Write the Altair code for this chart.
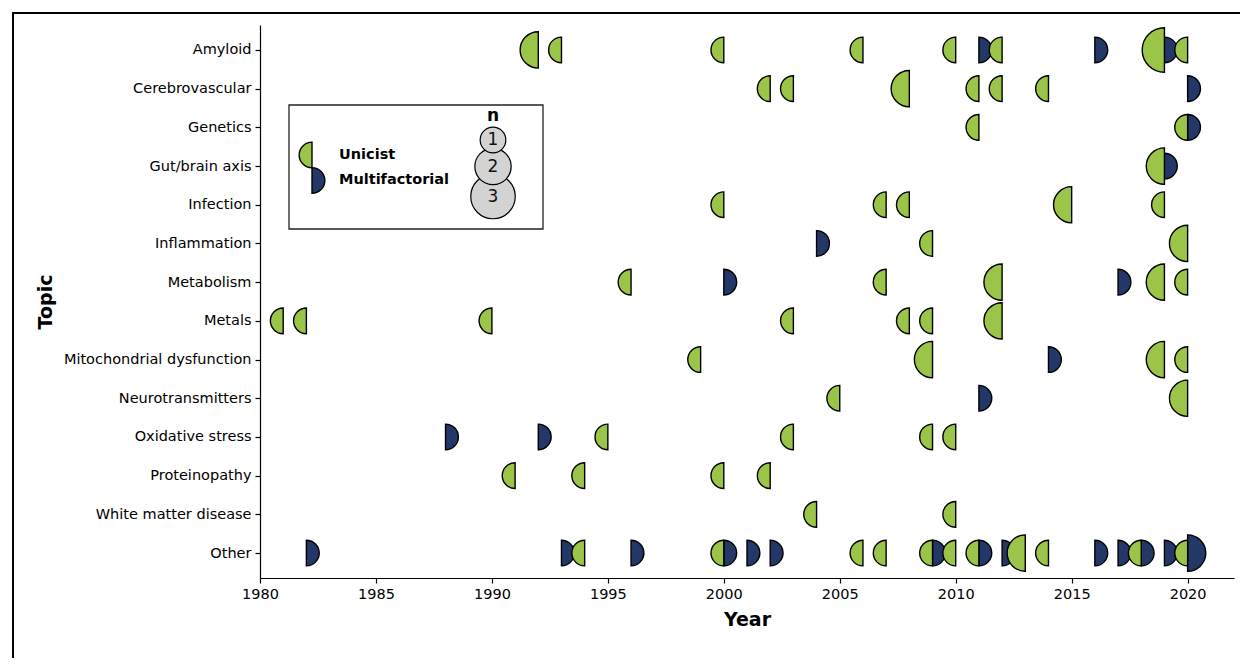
import altair as alt
import pandas as pd

topics = ["Amyloid", "Cerebrovascular", "Genetics", "Gut/brain axis", "Infection",
          "Inflammation", "Metabolism", "Metals", "Mitochondrial dysfunction",
          "Neurotransmitters", "Oxidative stress", "Proteinopathy",
          "White matter disease", "Other"]

# (year, n) per topic
unicist = {
    "Amyloid": [(1992, 2), (1993, 1), (2000, 1), (2006, 1), (2010, 1), (2012, 1), (2019, 3), (2020, 1)],
    "Cerebrovascular": [(2002, 1), (2003, 1), (2008, 2), (2011, 1), (2012, 1), (2014, 1)],
    "Genetics": [(2011, 1), (2020, 1)],
    "Gut/brain axis": [(2019, 2)],
    "Infection": [(2000, 1), (2007, 1), (2008, 1), (2015, 2), (2019, 1)],
    "Inflammation": [(2009, 1), (2020, 2)],
    "Metabolism": [(1996, 1), (2007, 1), (2012, 2), (2019, 2), (2020, 1)],
    "Metals": [(1981, 1), (1982, 1), (1990, 1), (2003, 1), (2008, 1), (2009, 1), (2012, 2)],
    "Mitochondrial dysfunction": [(1999, 1), (2009, 2), (2019, 2), (2020, 1)],
    "Neurotransmitters": [(2005, 1), (2020, 2)],
    "Oxidative stress": [(1995, 1), (2003, 1), (2009, 1), (2010, 1)],
    "Proteinopathy": [(1991, 1), (1994, 1), (2000, 1), (2002, 1)],
    "White matter disease": [(2004, 1), (2010, 1)],
    "Other": [(1994, 1), (2000, 1), (2006, 1), (2007, 1), (2009, 1), (2010, 1), (2011, 1),
              (2013, 2), (2014, 1), (2018, 1), (2020, 1)],
}
multifactorial = {
    "Amyloid": [(2011, 1), (2016, 1), (2019, 1)],
    "Cerebrovascular": [(2020, 1)],
    "Genetics": [(2020, 1)],
    "Gut/brain axis": [(2019, 1)],
    "Inflammation": [(2004, 1)],
    "Metabolism": [(2000, 1), (2017, 1)],
    "Mitochondrial dysfunction": [(2014, 1)],
    "Neurotransmitters": [(2011, 1)],
    "Oxidative stress": [(1988, 1), (1992, 1)],
    "Other": [(1982, 1), (1993, 1), (1996, 1), (2000, 1), (2001, 1), (2002, 1), (2009, 1),
              (2011, 1), (2012, 1), (2016, 1), (2017, 1), (2018, 1), (2019, 1), (2020, 2)],
}
x_ticks = [1980, 1985, 1990, 1995, 2000, 2005, 2010, 2015, 2020]
legend_n = [1, 2, 3]

GREEN = "#9bc548"
NAVY = "#243867"
FONT = "DejaVu Sans"
LEFT = "M 0 -1 A 1 1 0 0 0 0 1 Z"
RIGHT = "M 0 -1 A 1 1 0 0 1 0 1 Z"
CIRCLE = "M -1 0 A 1 1 0 1 0 1 0 A 1 1 0 1 0 -1 0 Z"


def rows(d, kind):
    out = []
    for t, items in d.items():
        for y, n in items:
            out.append({"topic": t, "year": y, "n": n, "type": kind})
    return out


df_u = pd.DataFrame(rows(unicist, "Unicist"))
df_m = pd.DataFrame(rows(multifactorial, "Multifactorial"))

W, H = 974, 553
xs = alt.Scale(domain=[1980, 2022], nice=False, zero=False)
ys = alt.Scale(type="point", domain=topics, padding=0.645)
ss = alt.Scale(type="linear", domain=[0, 3], range=[0, 1980])

xenc = alt.X("year:Q", scale=xs, axis=alt.Axis(values=x_ticks, format="d", title="Year",
                                                 grid=False, tickSize=5, labelPadding=4,
                                                 labelFlush=False, titlePadding=10))
yenc = alt.Y("topic:N", scale=ys, sort=topics, axis=alt.Axis(title="Topic", grid=False,
                                                               tickSize=5, labelPadding=4,
                                                               labelLimit=400,
                                                               titlePadding=8))
senc = alt.Size("n:Q", scale=ss, legend=None)

multi = alt.Chart(df_m).mark_point(shape=RIGHT, filled=True, fill=NAVY, stroke="black",
                                   strokeWidth=1.4, opacity=1, fillOpacity=1).encode(
    x=xenc, y=yenc, size=senc)
uni = alt.Chart(df_u).mark_point(shape=LEFT, filled=True, fill=GREEN, stroke="black",
                                 strokeWidth=1.4, opacity=1, fillOpacity=1).encode(
    x=xenc, y=yenc, size=senc)

one = pd.DataFrame([{"k": 0}])

frame = alt.Chart(one).mark_rect(fill=None, stroke="black", strokeWidth=2).encode(
    x=alt.value(-247), x2=alt.value(1040), y=alt.value(-12), y2=alt.value(680))

legend_box = alt.Chart(one).mark_rect(fill="white", stroke="#222222", strokeWidth=1.3).encode(
    x=alt.value(29), x2=alt.value(283), y=alt.value(80), y2=alt.value(204))

leg_u = alt.Chart(pd.DataFrame([{"n": 1}])).mark_point(
    shape=LEFT, filled=True, fill=GREEN, stroke="black", strokeWidth=1.4, opacity=1).encode(
    x=alt.value(52), y=alt.value(130), size=senc)
leg_m = alt.Chart(pd.DataFrame([{"n": 1}])).mark_point(
    shape=RIGHT, filled=True, fill=NAVY, stroke="black", strokeWidth=1.4, opacity=1).encode(
    x=alt.value(52), y=alt.value(155.5), size=senc)
txt_u = alt.Chart(one).mark_text(text="Unicist", font=FONT, fontSize=14.5, fontWeight="bold",
                                 align="left", baseline="middle", color="black").encode(
    x=alt.value(79), y=alt.value(130))
txt_m = alt.Chart(one).mark_text(text="Multifactorial", font=FONT, fontSize=14.5,
                                 fontWeight="bold", align="left", baseline="middle",
                                 color="black").encode(x=alt.value(79), y=alt.value(155))
txt_n = alt.Chart(one).mark_text(text="n", font=FONT, fontSize=17, fontWeight="bold",
                                 align="center", baseline="middle", color="black").encode(
    x=alt.value(233), y=alt.value(91))

circle_y = {1: 115, 2: 141.5, 3: 171.5}
circles = []
for v in reversed(legend_n):
    circles.append(alt.Chart(pd.DataFrame([{"n": v}])).mark_point(
        shape=CIRCLE, filled=True, fill="#d3d3d3", stroke="black", strokeWidth=1.2,
        opacity=1).encode(x=alt.value(233), y=alt.value(circle_y[v]), size=senc))
for v in legend_n:
    circles.append(alt.Chart(pd.DataFrame([{"n": v}])).mark_text(
        text=str(v), font=FONT, fontSize=17, align="center", baseline="middle",
        color="#111111").encode(x=alt.value(233), y=alt.value(circle_y[v])))

chart = alt.layer(frame, multi, uni, legend_box, leg_u, leg_m, txt_u, txt_m, txt_n,
                  *circles).properties(
    width=W, height=H,
    autosize=alt.AutoSizeParams(type="none"),
    padding={"left": 252, "top": 17, "right": 6, "bottom": 80},
).configure_view(stroke=None).configure_axis(
    domainColor="black", tickColor="black", labelColor="black", titleColor="black",
    labelFont=FONT, titleFont=FONT, labelFontSize=14.5, titleFontSize=19,
    titleFontWeight="bold", domainWidth=1.2, tickWidth=1.2,
).configure_axisX(domain=True).configure_axisY(domain=True)

chart.save("out.html", embed_options={"renderer": "svg", "actions": False})
